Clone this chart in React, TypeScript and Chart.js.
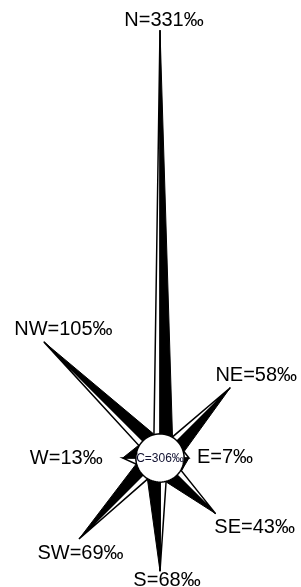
import React, { useEffect, useRef } from 'react';
import { Chart, registerables } from 'chart.js';

Chart.register(...registerables);

// ---- data ----
const directions = ['N', 'NE', 'E', 'SE', 'S', 'SW', 'W', 'NW'];
const frequencies = [331, 58, 7, 43, 68, 69, 13, 105]; // per mille
const directionAngles = [0, 45, 90, 135, 180, 225, 270, 315];
const calmFrequency = 306;

// ---- layout / style ----
const WIDTH = 301;
const HEIGHT = 587;
const CENTER_X = 160;
const CENTER_Y = 458;
const PX_PER_UNIT = 1.38;
const BASE_RADIUS = 14; // units added to every spike
const MAX_RADIUS = 310; // units, longest drawable spike
const CIRCLE_RADIUS = 17.5; // units
const SPIKE_BASE_RADIUS = 18.1; // units
const BLACK_HALF_ANGLE = 30; // degrees
const WHITE_HALF_ANGLE = 14; // degrees
const LABEL_OFFSETS: [number, number][] = [
  [4, -10], [26, -12], [36, -1], [39, 14], [7, 9], [1.5, 14], [-56.5, 0], [19.5, -12.5],
];

const rad = (d: number) => (d * Math.PI) / 180;
const pt = (r: number, deg: number) => ({ x: r * Math.sin(rad(deg)), y: r * Math.cos(rad(deg)) });
const tipRadius = (v: number) => Math.min(BASE_RADIUS + v, MAX_RADIUS);

function buildDatasets() {
  const origin = { x: 0, y: 0 };
  const common = {
    showLine: true,
    fill: 'shape',
    pointRadius: 0,
    pointHoverRadius: 0,
    pointHitRadius: 0,
    tension: 0,
    clip: false as any,
  };
  const circlePts = [] as { x: number; y: number }[];
  for (let i = 0; i <= 72; i++) circlePts.push(pt(CIRCLE_RADIUS, i * 5));
  const circle = {
    ...common,
    data: circlePts,
    backgroundColor: '#ffffff',
    borderColor: '#000000',
    borderWidth: 1.5,
  };
  const blacks = directions.map((_, i) => {
    const a = directionAngles[i];
    const tip = pt(tipRadius(frequencies[i]), a);
    return {
      ...common,
      data: [origin, tip, pt(SPIKE_BASE_RADIUS, a + BLACK_HALF_ANGLE), origin],
      backgroundColor: '#000000',
      borderColor: '#000000',
      borderWidth: 1,
    };
  });
  const whites = directions.map((_, i) => {
    const a = directionAngles[i];
    const tip = pt(tipRadius(frequencies[i]), a);
    return {
      ...common,
      data: [origin, pt(SPIKE_BASE_RADIUS, a - WHITE_HALF_ANGLE), tip, origin],
      backgroundColor: '#ffffff',
      borderColor: '#000000',
      borderWidth: 1.5,
    };
  });
  // lower index is drawn on top
  return [circle, ...blacks, ...whites];
}

const labelPlugin = {
  id: 'roseLabels',
  afterDatasetsDraw(chart: any) {
    const { ctx } = chart;
    const xs = chart.scales.x;
    const ys = chart.scales.y;
    ctx.save();
    ctx.fillStyle = '#000000';
    ctx.textAlign = 'center';
    ctx.textBaseline = 'middle';
    ctx.font = '20px "Liberation Sans", Arial, sans-serif';
    directions.forEach((d, i) => {
      const tip = pt(tipRadius(frequencies[i]), directionAngles[i]);
      const px = xs.getPixelForValue(tip.x) + LABEL_OFFSETS[i][0];
      const py = ys.getPixelForValue(tip.y) + LABEL_OFFSETS[i][1];
      ctx.fillText(`${d}=${frequencies[i]}‰`, px, py);
    });
    ctx.font = '12px "Liberation Sans", Arial, sans-serif';
    ctx.fillStyle = '#101030';
    ctx.fillText(`C=${calmFrequency}‰`, xs.getPixelForValue(0), ys.getPixelForValue(0) + 1);
    ctx.restore();
  },
};

export default function App() {
  const ref = useRef<HTMLCanvasElement | null>(null);
  useEffect(() => {
    if (!ref.current) return;
    const chart = new Chart(ref.current, {
      type: 'line',
      data: { datasets: buildDatasets() as any },
      options: {
        animation: false,
        responsive: false,
        maintainAspectRatio: false,
        events: [],
        layout: { padding: 0 },
        plugins: { legend: { display: false }, tooltip: { enabled: false } },
        scales: {
          x: {
            type: 'linear',
            display: false,
            min: -CENTER_X / PX_PER_UNIT,
            max: (WIDTH - CENTER_X) / PX_PER_UNIT,
          },
          y: {
            type: 'linear',
            display: false,
            min: -(HEIGHT - CENTER_Y) / PX_PER_UNIT,
            max: CENTER_Y / PX_PER_UNIT,
          },
        },
      },
      plugins: [labelPlugin],
    });
    return () => chart.destroy();
  }, []);
  return (
    <div style={{ position: 'absolute', left: 0, top: 0, width: WIDTH, height: HEIGHT, background: '#fff' }}>
      <canvas ref={ref} width={WIDTH} height={HEIGHT} style={{ display: 'block' }} />
    </div>
  );
}
